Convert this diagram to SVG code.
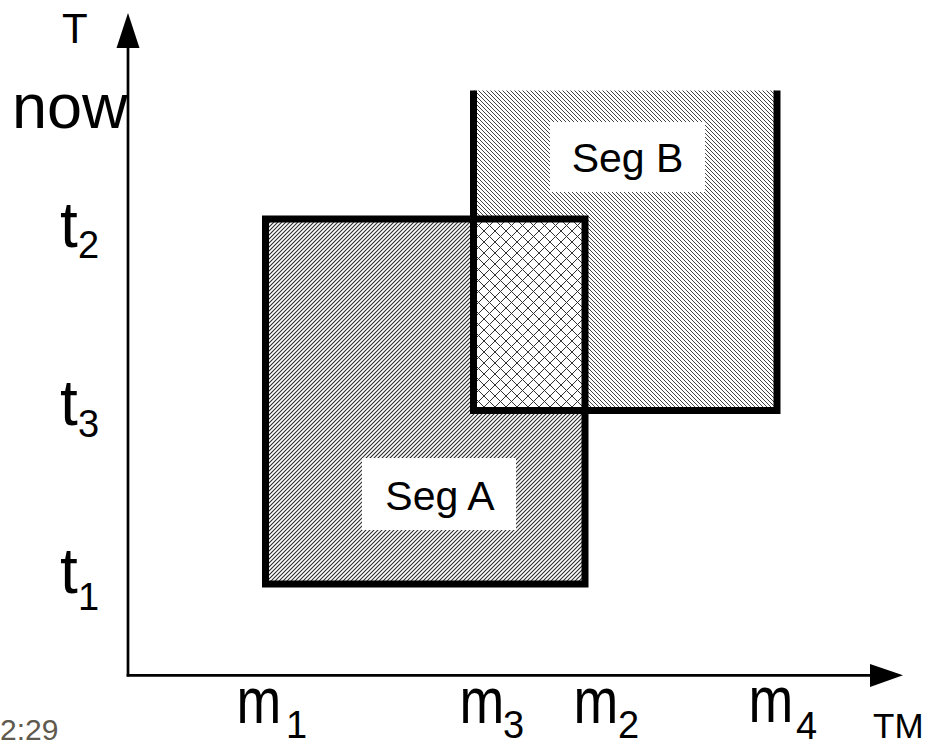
<svg xmlns="http://www.w3.org/2000/svg" width="934" height="746" viewBox="0 0 934 746">
<style>
  .lbl { font-family: "Liberation Sans", Arial, sans-serif; fill: #000; }
  .border { fill: none; stroke: #000; stroke-width: 7; stroke-linejoin: miter; }
  .axis { stroke: #000; stroke-width: 2.7; fill: none; }
  .head { fill: #000; }
</style>
<defs>
  <pattern id="hatchA" patternUnits="userSpaceOnUse" width="4" height="4">
    <rect width="4" height="4" fill="#fff"/>
    <path d="M-1,1 L1,-1 M0,4 L4,0 M3,5 L5,3" stroke="#2a2a2a" stroke-width="1.1"/>
  </pattern>
  <pattern id="hatchB" patternUnits="userSpaceOnUse" width="4" height="4">
    <rect width="4" height="4" fill="#fff"/>
    <path d="M-1,3 L1,5 M0,0 L4,4 M3,-1 L5,1" stroke="#3a3a3a" stroke-width="0.95"/>
  </pattern>
  <pattern id="cross" patternUnits="userSpaceOnUse" width="11" height="11">
    <rect width="11" height="11" fill="#fff"/>
    <path d="M0,0 L11,11 M0,11 L11,0" stroke="#333" stroke-width="1"/>
  </pattern>
</defs>
<rect width="934" height="746" fill="#fff"/>

<g id="segA-fill">
  <rect x="265.5" y="219" width="319.5" height="365" fill="url(#hatchA)"/>
</g>
<g id="segB-fill">
  <rect x="473.5" y="90.5" width="303.5" height="320" fill="url(#hatchB)"/>
</g>
<g id="overlap">
  <rect x="473.5" y="219" width="111.5" height="191.5" fill="url(#cross)"/>
</g>

<g id="segA">
  <rect class="border" x="265.5" y="219" width="319.5" height="365"/>
  <rect x="362" y="458" width="154" height="72" fill="#fff"/>
  <text class="lbl" x="440" y="510" font-size="41" text-anchor="middle">Seg A</text>
</g>
<g id="segB">
  <path class="border" d="M473.5,90.5 V410.5 H777 V90.5"/>
  <rect x="550" y="122" width="155" height="70" fill="#fff"/>
  <text class="lbl" x="627.5" y="172" font-size="41" text-anchor="middle">Seg B</text>
</g>

<g id="connectors">
  <line class="axis" x1="128" y1="46" x2="128" y2="676.6"/>
  <polygon class="head" points="128,13 116.5,48 139.5,48"/>
  <line class="axis" x1="126.7" y1="675.3" x2="872" y2="675.3"/>
  <polygon class="head" points="870,664 903,675.3 870,687"/>
</g>

<g id="y-labels">
  <text class="lbl" x="62" y="42.7" font-size="42">T</text>
  <text class="lbl" x="12" y="128" font-size="63">now</text>
  <text class="lbl" x="60" y="247" font-size="64">t</text>
  <text class="lbl" x="78" y="258" font-size="38">2</text>
  <text class="lbl" x="60" y="425" font-size="64">t</text>
  <text class="lbl" x="78" y="437" font-size="38">3</text>
  <text class="lbl" x="60" y="593" font-size="64">t</text>
  <text class="lbl" x="78" y="610" font-size="38">1</text>
</g>

<g id="x-labels">
  <text class="lbl" font-size="64" transform="translate(236.5,723) scale(0.84,1)">m</text>
  <text class="lbl" x="286" y="738" font-size="38">1</text>
  <text class="lbl" font-size="64" transform="translate(459.5,723) scale(0.84,1)">m</text>
  <text class="lbl" x="503" y="738" font-size="38">3</text>
  <text class="lbl" font-size="64" transform="translate(573.5,723) scale(0.84,1)">m</text>
  <text class="lbl" x="618" y="738" font-size="38">2</text>
  <text class="lbl" font-size="64" transform="translate(748.5,722) scale(0.84,1)">m</text>
  <text class="lbl" x="796" y="739" font-size="38">4</text>
  <text class="lbl" x="873" y="738" font-size="35">TM</text>
  <text x="0" y="740" font-size="30" fill="#5f5a4e" font-family="Liberation Sans, Arial, sans-serif">2:29</text>
</g>
</svg>
